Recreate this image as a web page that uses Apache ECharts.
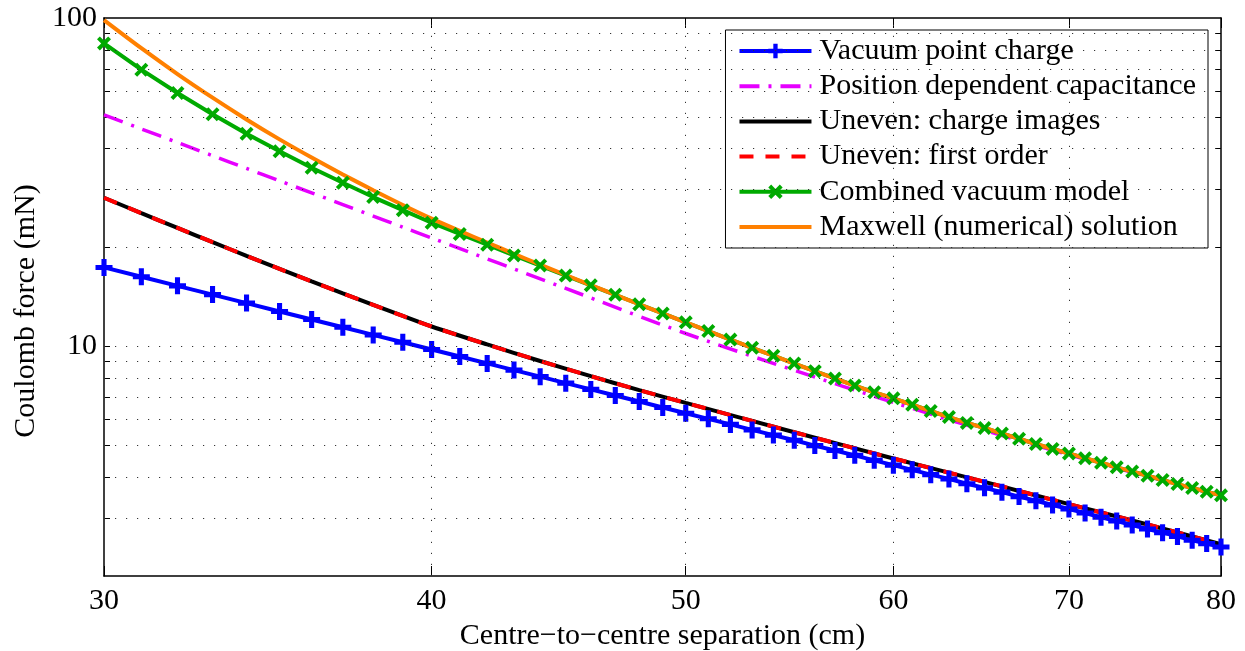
<!DOCTYPE html>
<html><head><meta charset="utf-8">
<script src="https://cdn.jsdelivr.net/npm/echarts@6/dist/echarts.min.js"></script>
<style>html,body{margin:0;padding:0;background:#fff}#c{width:1245px;height:651px}</style>
</head><body><div id="c"></div>
<script>
// ---- data ----
const separationCm = [30,31,32,33,34,35,36,37,38,39,40,41,42,43,44,45,46,47,48,49,50,51,52,53,54,55,56,57,58,59,60,61,62,63,64,65,66,67,68,69,70,71,72,73,74,75,76,77,78,79,80];
const vacuumPointCharge = [17.40,16.30,15.29,14.38,13.55,12.78,12.08,11.44,10.84,10.30,9.79,9.32,8.88,8.47,8.09,7.73,7.40,7.09,6.80,6.52,6.26,6.02,5.79,5.57,5.37,5.18,4.99,4.82,4.66,4.50,4.35,4.21,4.07,3.95,3.82,3.71,3.60,3.49,3.39,3.29,3.20,3.11,3.02,2.94,2.86,2.78,2.71,2.64,2.57,2.51,2.45];
const combinedVacuum = [83.7,69.6,59.1,50.9,44.4,39.3,35.0,31.5,28.5,26.0,23.8,22.0,20.4,18.93,17.63,16.43,15.35,14.36,13.44,12.60,11.84,11.14,10.49,9.905,9.37,8.87,8.41,7.99,7.60,7.25,6.95,6.645,6.36,6.095,5.85,5.645,5.43,5.235,5.045,4.875,4.72,4.565,4.425,4.285,4.16,4.04,3.92,3.81,3.705,3.61,3.52];
const maxwellNumerical = [98.5,80.9,67.5,57.2,49.1,42.7,37.6,33.4,29.9,26.96,24.5,22.48,20.72,19.14,17.75,16.50,15.38,14.36,13.44,12.60,11.84,11.14,10.49,9.905,9.37,8.87,8.41,7.99,7.60,7.25,6.95,6.645,6.36,6.095,5.85,5.645,5.43,5.235,5.045,4.875,4.72,4.565,4.425,4.285,4.16,4.04,3.92,3.81,3.705,3.61,3.52];

const capacitanceCm = [30,31,32,33,34,35,36,37,38,39,40,45,50,55,60,65,70,75,80];
const positionCapacitance = [50.7,45.95,41.78,38.09,34.83,31.93,29.34,27.03,24.95,23.08,21.39,15.02,10.95,8.46,6.75,5.55,4.68,4.02,3.51];

const unevenCm = [30,31,32,33,34,35,36,37,38,39,40,42,44,46,48,50,55,60,65,70,75,80];
const unevenChargeImages = [28.36,25.45,22.95,20.77,18.88,17.22,15.77,14.50,13.38,12.38,11.50,10.14,9.03,8.12,7.36,6.73,5.48,4.56,3.87,3.31,2.87,2.50];
const unevenFirstOrder = [28.36,25.45,22.95,20.77,18.88,17.22,15.77,14.50,13.38,12.38,11.50,10.14,9.03,8.12,7.36,6.73,5.48,4.56,3.87,3.31,2.87,2.50];

const xTickValues = [30,40,50,60,70,80];
const xGridValues = [40,50,60,70];
const yLabelValues = [10,100];
const yTickValues = [3,4,5,6,7,8,9,10,20,30,40,50,60,70,80,90];
const yGridValues = [3,4,5,6,7,8,9,10,20,30,40,50,60,70,80,90];

const seriesNames = ['Vacuum point charge','Position dependent capacitance','Uneven: charge images','Uneven: first order','Combined vacuum model','Maxwell (numerical) solution'];
const seriesHasMarkers = [true, false, false, false, true, false];

// ---- chart ----
const FONT = 'Liberation Serif, Times New Roman, serif';
const FS = 30;
const pairs = (xs, ys) => xs.map((x, i) => [x, ys[i]]);
const plusPath = 'path://M3.5,0H6.5V3.5H10V6.5H6.5V10H3.5V6.5H0V3.5H3.5Z';
const crossPath = 'path://M2,0L5,3L8,0L10,2L7,5L10,8L8,10L5,7L2,10L0,8L3,5L0,2Z';

function xAx(pos, main) {
  return {
    type: 'log', logBase: 10, min: 30, max: 80, position: pos,
    axisLine: {show: true, onZero: false, lineStyle: {color: '#000', width: 1.5}},
    axisTick: {show: true, inside: true, length: 10, customValues: xTickValues, lineStyle: {color: '#000', width: 1}},
    axisLabel: {show: main, customValues: xTickValues, fontSize: FS, fontFamily: FONT, color: '#000', margin: 10},
    splitLine: {show: false}, minorTick: {show: false}, minorSplitLine: {show: false},
    name: main ? 'Centre\u2212to\u2212centre separation (cm)' : '',
    nameLocation: 'middle', nameGap: 40,
    nameTextStyle: {fontSize: FS, fontFamily: FONT, color: '#000'}
  };
}
function yAx(pos, main) {
  return {
    type: 'log', logBase: 10, min: 2, max: 100, position: pos,
    axisLine: {show: true, onZero: false, lineStyle: {color: '#000', width: 1.5}},
    axisTick: {show: true, inside: true, length: 6, customValues: yTickValues, lineStyle: {color: '#000', width: 1}},
    axisLabel: {show: main, customValues: yLabelValues, fontSize: FS, fontFamily: FONT, color: '#000', margin: 7},
    splitLine: {show: false}, minorTick: {show: false}, minorSplitLine: {show: false},
    name: main ? 'Coulomb force (mN)' : '',
    nameLocation: 'middle', nameGap: 62,
    nameTextStyle: {fontSize: FS, fontFamily: FONT, color: '#000', padding: [0, 28, 0, 0]}
  };
}

const chart = echarts.init(document.getElementById('c'), null, {renderer: 'canvas'});
chart.setOption({
  animation: false,
  backgroundColor: '#fff',
  grid: {left: 104, right: 24, top: 18, bottom: 75, containLabel: false, outerBoundsMode: 'none'},
  xAxis: [xAx('bottom', true), xAx('top', false)],
  yAxis: [yAx('left', true), yAx('right', false)],
  legend: {
    data: seriesNames.map((n, i) => seriesHasMarkers[i] ? {name: n} :
      {name: n, itemStyle: {color: 'rgba(0,0,0,0)', borderColor: 'rgba(0,0,0,0)', borderWidth: 0, opacity: 0}}),
    orient: 'vertical', right: 37, top: 30,
    itemWidth: 72, itemHeight: 18, itemGap: 5.2,
    padding: [6, 12, 6, 12],
    backgroundColor: '#fff', borderColor: '#000', borderWidth: 1, borderRadius: 0,
    lineStyle: {width: 4},
    textStyle: {fontSize: FS, fontFamily: FONT, color: '#000', padding: [0, 0, 0, 3]},
    selectedMode: false
  },
  series: [
    {
      name: '_grid', type: 'line', data: [], silent: true, symbol: 'none',
      markLine: {
        silent: true, symbol: ['none', 'none'], label: {show: false}, animation: false,
        lineStyle: {color: '#333', width: 1, type: [1.2, 9.8]},
        emphasis: {disabled: true},
        data: xGridValues.map(v => ({xAxis: v})).concat(yGridValues.map(v => ({yAxis: v})))
      }
    },
    {
      name: seriesNames[0], type: 'line', data: pairs(separationCm, vacuumPointCharge),
      symbol: plusPath, symbolSize: 17, showSymbol: true, showAllSymbol: true,
      lineStyle: {color: '#0000ff', width: 4}, itemStyle: {color: '#0000ff'}
    },
    {
      name: seriesNames[1], type: 'line', data: pairs(capacitanceCm, positionCapacitance),
      symbol: 'circle', showSymbol: false, smooth: 0.3,
      lineStyle: {color: '#e600ff', width: 3.5, type: [20, 9, 3, 9]}, itemStyle: {color: '#e600ff'}
    },
    {
      name: seriesNames[2], type: 'line', data: pairs(unevenCm, unevenChargeImages),
      symbol: 'circle', showSymbol: false, smooth: 0.3,
      lineStyle: {color: '#000', width: 4}, itemStyle: {color: '#000'}
    },
    {
      name: seriesNames[3], type: 'line', data: pairs(unevenCm, unevenFirstOrder),
      symbol: 'circle', showSymbol: false, smooth: 0.3,
      lineStyle: {color: '#ff0000', width: 4, type: [14, 12]}, itemStyle: {color: '#ff0000'}
    },
    {
      name: seriesNames[4], type: 'line', data: pairs(separationCm, combinedVacuum),
      symbol: crossPath, symbolSize: 14, showSymbol: true, showAllSymbol: true,
      lineStyle: {color: '#00aa00', width: 4}, itemStyle: {color: '#00aa00'}
    },
    {
      name: seriesNames[5], type: 'line', data: pairs(separationCm, maxwellNumerical),
      symbol: 'circle', showSymbol: false, smooth: 0.3,
      lineStyle: {color: '#ff8000', width: 4}, itemStyle: {color: '#ff8000'}
    }
  ]
});
</script></body></html>
